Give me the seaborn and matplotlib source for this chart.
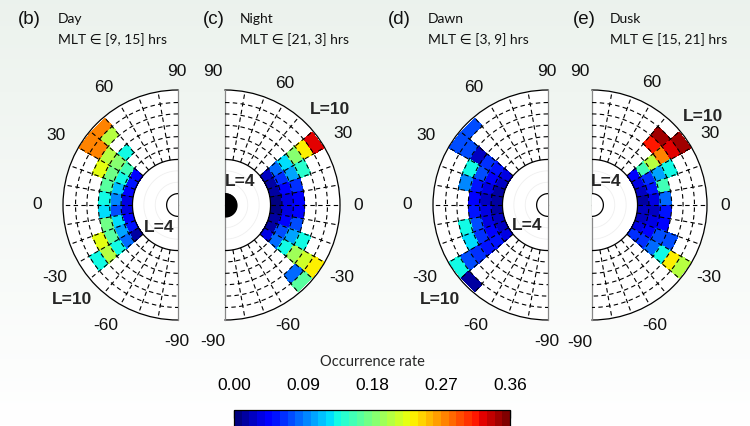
import numpy as np
import matplotlib
matplotlib.use("Agg")
import matplotlib.pyplot as plt
import seaborn as sns
from matplotlib.colors import BoundaryNorm

nan = np.nan

# ---------------- data ----------------
L_edges = [4, 5, 6, 7, 8, 9, 10]                               # L-shell bin edges
lat_edges = [50, 40, 30, 20, 10, 0, -10, -20, -30, -40, -50]   # magnetic latitude bin edges (deg)

# rows: L 4-5 ... 9-10 ; columns: lat 40-50, 30-40, ..., -50--40
day = [
    [nan, .045, .05, .04, .03, .03, .04, .05, .01, nan],
    [nan, .15, .13, .11, .09, .07, .12, .10, .08, nan],
    [.13, .18, .17, .16, .13, .12, .17, .16, .13, nan],
    [nan, .20, .22, nan, nan, nan, nan, .22, .20, nan],
    [.20, .27, nan, nan, nan, nan, nan, nan, .13, nan],
    [.27, .27, nan, nan, nan, nan, nan, nan, nan, nan],
]
night = [
    [nan, .02, .015, .01, .005, .005, .01, .015, .03, nan],
    [nan, .08, .06, .04, .03, .03, .04, .07, .08, nan],
    [nan, .12, .10, .06, .04, .04, .07, .10, .13, nan],
    [nan, .18, .14, nan, nan, nan, nan, .13, .19, nan],
    [nan, .23, nan, nan, nan, nan, nan, nan, .21, .08],
    [nan, .32, nan, nan, nan, nan, nan, nan, .23, .16],
]
dawn = [
    [nan, .03, .02, .015, .015, .015, .02, .02, .03, nan],
    [nan, .05, .04, .03, .025, .03, .035, .04, .05, nan],
    [nan, .06, .07, .05, .04, .05, .07, .06, .05, nan],
    [nan, .02, .13, .09, nan, nan, .13, .12, .06, nan],
    [nan, .07, nan, nan, nan, nan, nan, nan, .07, nan],
    [.07, .07, nan, nan, nan, nan, nan, nan, .13, .01],
]
dusk = [
    [nan, .04, .03, .02, .015, .02, .025, .03, .06, nan],
    [nan, .15, .06, .05, .03, .025, .03, .04, .06, nan],
    [nan, .20, .10, .15, .08, .05, .04, .07, .08, nan],
    [.31, .27, .13, nan, nan, nan, nan, .07, .13, nan],
    [.35, .32, nan, nan, nan, nan, nan, nan, .23, nan],
    [nan, .35, nan, nan, nan, nan, nan, nan, .20, nan],
]

panel_data = [day, night, dawn, dusk]
panel_letters = ["(b)", "(c)", "(d)", "(e)"]
panel_names = ["Day", "Night", "Dawn", "Dusk"]
mlt_ranges = ["[9, 15]", "[21, 3]", "[3, 9]", "[15, 21]"]
lat_tick_labels = ["90", "60", "30", "0", "-30", "-60", "-90"]
cbar_ticks = [0.00, 0.09, 0.18, 0.27, 0.36]
cbar_label = "Occurrence rate"

# ---------------- style ----------------
sns.set_style("white")
plt.rcParams['font.family'] = ['Liberation Sans', 'DejaVu Sans']

W, H = 750, 426
fig = plt.figure(figsize=(W / 100, H / 100), dpi=100)

# faint background gradient
bg = fig.add_axes([0, 0, 1, 1], zorder=-10)
grad = np.linspace(0, 1, 256)[:, None]
top = np.array([0.925, 0.950, 0.930])
bot = np.array([1.0, 1.0, 1.0])
img = top[None, None, :] * (1 - grad[..., None]) + bot[None, None, :] * grad[..., None]
img = np.repeat(img, 2, axis=1)
bg.imshow(img, aspect='auto', extent=[0, 1, 0, 1])
bg.axis('off')

cmap = plt.get_cmap('jet', 36)
norm = BoundaryNorm(np.linspace(0, 0.36, 37), 36)

# layout (pixels)
R_px = 115.0
rmax = 10.1
scale = R_px / rmax
cy = 205
edges_x = [178, 225, 548, 592]
sides = ['left', 'right', 'left', 'right']
earth_filled = [False, True, False, False]

tick_off = {
    'left': [(-1, 133), (-74, 118), (-122, 70), (-141, 0), (-123, -73), (-72, -121), (-1, -137)],
    'right': [(-12, 133), (60, 122), (118, 72), (133, 0), (117, -72), (63, -120), (-12, -137)],
}
L4_off = [(-19, -22), (15, 24), (-21, -20), (14, 23)]
L10_off = [(-106, -95), (105, 95), (-108, -95), (111, 88)]
title_x = [(18, 58), (203, 240), (388, 428), (573, 610)]

dash = (0, (4.0, 3.0))

mappable = None
for i in range(4):
    side = sides[i]
    ex = edges_x[i]
    # centre of the half-disc's bounding box
    bx = ex - R_px / 2 if side == 'left' else ex + R_px / 2
    # polar wedge occupies half of the axes box -> use a doubled box
    w_ax, h_ax = 2 * R_px, 4 * R_px
    rect = [(bx - w_ax / 2) / W, (H - cy - h_ax / 2) / H, w_ax / W, h_ax / H]
    ax = fig.add_axes(rect, projection='polar')
    if side == 'left':
        ax.set_thetamin(90)
        ax.set_thetamax(270)
        to_theta = lambda lat: np.deg2rad(180 - np.asarray(lat, float))
    else:
        ax.set_thetamin(-90)
        ax.set_thetamax(90)
        to_theta = lambda lat: np.deg2rad(np.asarray(lat, float))
    ax.set_rlim(0, rmax)
    ax.set_facecolor('white')
    ax.grid(False)
    ax.set_xticks([])
    ax.set_yticks([])

    T, Rg = np.meshgrid(to_theta(lat_edges), L_edges)
    C = np.ma.masked_invalid(np.array(panel_data[i], float))
    mappable = ax.pcolormesh(T, Rg, C, cmap=cmap, norm=norm, shading='flat',
                             edgecolors='none', zorder=1)

    # grid
    th_full = to_theta(np.linspace(90, -90, 361))
    for L in [5, 6, 7, 8, 9]:
        ax.plot(th_full, np.full_like(th_full, L), color='black', lw=0.8,
                linestyle=dash, zorder=3)
    ax.plot(th_full, np.full_like(th_full, 4), color='black', lw=0.9, zorder=3)
    for lat in range(-80, 90, 10):
        t = to_theta(lat)
        ax.plot([t, t], [4, rmax], color='black', lw=0.8, linestyle=dash, zorder=3)
    for L in [2, 3]:
        ax.plot(th_full, np.full_like(th_full, L), color='#efefef', lw=0.6, zorder=2)

    # Earth
    ax.fill_between(th_full, 0, 1, color='black' if earth_filled[i] else 'white',
                    zorder=4)
    ax.plot(th_full, np.ones_like(th_full), color='black', lw=0.9, zorder=5)

    for name, sp in ax.spines.items():
        if name == 'polar':
            sp.set_color('black')
            sp.set_linewidth(0.9)
        elif name in ('start', 'end'):
            sp.set_color('#888888')
            sp.set_linewidth(0.9)
        else:
            sp.set_visible(False)

    def put(off, text, **kw):
        dx, dy = off
        th = np.arctan2(dy, dx)
        r = np.hypot(dx, dy) / scale
        ax.text(th, r, text, ha='center', va='center', clip_on=False, **kw)

    for off, lab in zip(tick_off[side], lat_tick_labels):
        put(off, lab, fontsize=12.5, color='#111111')
    put(L4_off[i], "L=4", fontsize=12.5, fontweight='bold')
    put(L10_off[i], "L=10", fontsize=12.5, fontweight='bold')

    # titles
    lx, nx = title_x[i]
    fig.text(lx / W, 1 - 20 / H, panel_letters[i], fontsize=13.5, ha='left', va='center',
             color='#111111')
    fig.text(nx / W, 1 - 19 / H, panel_names[i], fontsize=10, ha='left', va='center',
             family=['Lato', 'DejaVu Sans'], color='#111111')
    fig.text(nx / W, 1 - 40 / H, "MLT \u2208 " + mlt_ranges[i] + " hrs", fontsize=10,
             ha='left', va='center', family=['Lato', 'DejaVu Sans'], color='#111111')

# colorbar
cax = fig.add_axes([234 / W, -0.05, (510 - 234) / W, (H - 410) / H + 0.05])
cb = fig.colorbar(mappable, cax=cax, orientation='horizontal', ticks=cbar_ticks)
cb.outline.set_edgecolor('black')
cb.outline.set_linewidth(0.9)
cax.xaxis.set_ticks_position('top')
cax.xaxis.set_label_position('top')
cax.set_xticks(np.arange(0, 0.3601, 0.03), minor=True)
cax.tick_params(axis='x', which='major', direction='in', length=6, width=0.9,
                pad=12, labelsize=12.5, top=True, bottom=False, colors='black')
cax.tick_params(axis='x', which='minor', direction='in', length=3, width=0.8,
                top=True, bottom=False)
cax.set_xticklabels([f"{v:.2f}" for v in cbar_ticks])
cax.set_xlabel(cbar_label, fontsize=10.5, labelpad=9, family=['Lato', 'DejaVu Sans'])

fig.savefig("out.png", dpi=100)
